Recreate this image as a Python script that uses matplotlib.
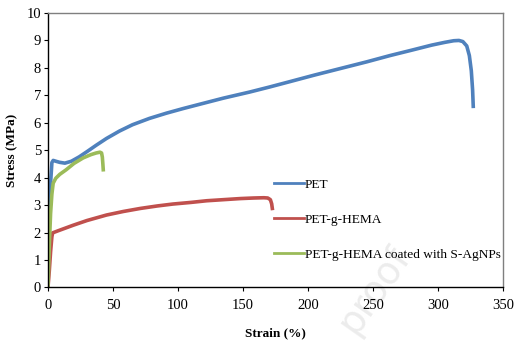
import matplotlib
matplotlib.use("Agg")
import matplotlib.pyplot as plt

# strain (%) / stress (MPa)
pet_strain = [0, 1, 2, 3, 4, 6, 9, 13, 18, 24, 30, 37, 45, 55, 65, 78, 91, 104, 117, 135,
              155, 170, 186, 205, 225, 245, 263, 280, 295, 305, 312, 316, 319, 322, 324, 325.5, 326.5, 327]
pet_stress = [0, 2.4, 3.8, 4.55, 4.63, 4.6, 4.56, 4.53, 4.6, 4.76, 4.95, 5.18, 5.43, 5.7, 5.93, 6.16,
              6.35, 6.52, 6.68, 6.9, 7.12, 7.3, 7.5, 7.74, 7.98, 8.22, 8.45, 8.65, 8.83, 8.93, 8.99,
              9.0, 8.96, 8.8, 8.45, 7.9, 7.2, 6.6]

hema_strain = [0, 1, 2, 3, 3.6, 8, 19.5, 30, 45, 58, 71, 84, 96, 110, 122, 135, 148, 158, 166,
               169, 171, 172, 172.5]
hema_stress = [0, 0.6, 1.3, 1.85, 1.99, 2.07, 2.27, 2.44, 2.64, 2.77, 2.88, 2.97, 3.04, 3.1, 3.16,
               3.2, 3.24, 3.26, 3.27, 3.26, 3.2, 3.05, 2.88]

coat_strain = [0, 1, 2, 3, 4, 6, 9, 14, 20, 27, 33, 37, 40, 41.2, 41.8, 42.2, 42.5]
coat_stress = [0, 1.5, 2.7, 3.4, 3.8, 3.98, 4.12, 4.29, 4.52, 4.72, 4.84, 4.9, 4.93, 4.9, 4.75,
               4.5, 4.29]

COLORS = {"pet": "#4F81BD", "hema": "#C0504D", "coat": "#9BBB59"}

plt.rcParams["font.family"] = ["Liberation Serif", "DejaVu Serif"]

fig = plt.figure(figsize=(5.25, 3.47), dpi=100)
ax = fig.add_axes([0.0914, 0.1715, 0.867, 0.791])

# faint watermark, kept underneath the axes
fig.text(0.715, 0.165, "proof", rotation=55, fontsize=27, color="#ececec",
         family="DejaVu Sans", ha="center", va="center", zorder=-1)
ax.set_facecolor("none")

ax.plot(pet_strain, pet_stress, color=COLORS["pet"], lw=2.6, label="PET", solid_joinstyle="round")
ax.plot(hema_strain, hema_stress, color=COLORS["hema"], lw=2.6, label="PET-g-HEMA", solid_joinstyle="round")
ax.plot(coat_strain, coat_stress, color=COLORS["coat"], lw=2.6,
        label="PET-g-HEMA coated with S-AgNPs", solid_joinstyle="round")

ax.set_xlim(0, 350)
ax.set_ylim(0, 10)
ax.set_xticks(range(0, 351, 50))
ax.set_yticks(range(0, 11))
ax.tick_params(direction="out", length=3, width=0.8, labelsize=10.5, colors="black", pad=2)
ax.tick_params(axis="x", pad=5)

for side in ("left", "bottom"):
    ax.spines[side].set_color("black")
    ax.spines[side].set_linewidth(1.0)
for side in ("top", "right"):
    ax.spines[side].set_color("#7f7f7f")
    ax.spines[side].set_linewidth(1.0)

ax.set_xlabel("Strain (%)", fontsize=9.5, weight="bold", labelpad=11)
ax.set_ylabel("Stress (MPa)", fontsize=9.5, weight="bold", labelpad=6)

leg = ax.legend(loc="upper left", bbox_to_anchor=(0.497, 0.398), frameon=False, fontsize=9.6,
                handlelength=2.2, handletextpad=0.1, labelspacing=1.7, borderaxespad=0,
                borderpad=0)
for line in leg.get_lines():
    line.set_linewidth(2.0)

fig.savefig("out.png", dpi=100)
